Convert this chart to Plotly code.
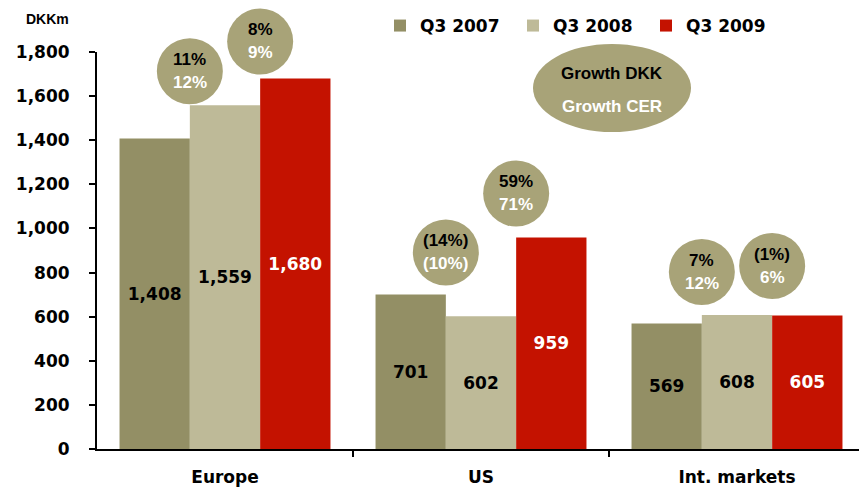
import plotly.graph_objects as go

# Sales by region, DKK million
regions = ["Europe", "US", "Int. markets"]
series_names = ["Q3 2007", "Q3 2008", "Q3 2009"]
sales_q3_2007 = [1408, 701, 569]
sales_q3_2008 = [1559, 602, 608]
sales_q3_2009 = [1680, 959, 605]

# Growth badges: (growth in DKK, growth at constant exchange rates)
growth_2008_dkk = ["11%", "(14%)", "7%"]
growth_2008_cer = ["12%", "(10%)", "12%"]
growth_2009_dkk = ["8%", "59%", "(1%)"]
growth_2009_cer = ["9%", "71%", "6%"]

y_ticks = [0, 200, 400, 600, 800, 1000, 1200, 1400, 1600, 1800]

colors = ["#938F65", "#BEBA98", "#C41200"]
label_colors = ["black", "black", "white"]
badge_color = "#A8A378"

W, H = 859, 491
M_L, M_R, M_T, M_B = 97, 0, 52, 42
plot_w = W - M_L - M_R
plot_h = H - M_T - M_B
Y_MAX = 1800
px_per_cat = 256
X_MIN = -0.5
X_MAX = X_MIN + plot_w / px_per_cat
BAR_GAP = 0.176
bar_w = (1 - BAR_GAP) / 3

label_font = "DejaVu Sans"
text_font = "Liberation Sans"

x_pos = list(range(len(regions)))

fig = go.Figure()
for name, vals, col, lc in zip(series_names,
                               [sales_q3_2007, sales_q3_2008, sales_q3_2009],
                               colors, label_colors):
    fig.add_trace(go.Bar(
        x=x_pos, y=vals, name=name, marker=dict(color=col, line=dict(width=0)),
        text=[f"{v:,}" for v in vals], textposition="inside",
        insidetextanchor="middle", textangle=0,
        textfont=dict(family=label_font, size=17, color=lc, weight="bold"),
        hoverinfo="skip",
    ))


def to_paper_x(x):
    return (x - X_MIN) / (X_MAX - X_MIN)


def to_paper_y(v):
    return v / Y_MAX


def px_x(p):
    return (p - M_L) / plot_w


def px_y(p):
    return (H - M_B - p) / plot_h


# Vertical lift (px) of each badge centre above the taller neighbouring bar
lift_px = [[34, 37], [42, 44], [43, 49]]
r_px = 33
units_per_px = Y_MAX / plot_h

shapes = []
annotations = []


def blob(cx, cy, rx, ry):
    shapes.append(dict(type="circle", xref="paper", yref="paper",
                       x0=cx - rx / plot_w, x1=cx + rx / plot_w,
                       y0=cy - ry / plot_h, y1=cy + ry / plot_h,
                       fillcolor=badge_color, line=dict(width=0), layer="above"))


def note(x, y, text, color, size):
    annotations.append(dict(
        xref="paper", yref="paper", x=x, y=y, showarrow=False,
        xanchor="center", yanchor="middle", align="center",
        text=f"<b>{text}</b>",
        font=dict(family=text_font, size=size, color=color),
    ))


def badge(cx, cy, top, bottom):
    blob(cx, cy, r_px, r_px)
    note(cx, cy + 11.5 / plot_h, top, "black", 17)
    note(cx, cy - 11.5 / plot_h, bottom, "white", 17)


for i in range(len(regions)):
    # badge between the 2007 and 2008 bars
    v = max(sales_q3_2007[i], sales_q3_2008[i]) + lift_px[i][0] * units_per_px
    badge(to_paper_x(i - bar_w / 2), to_paper_y(v), growth_2008_dkk[i], growth_2008_cer[i])
    # badge between the 2008 and 2009 bars
    v = max(sales_q3_2008[i], sales_q3_2009[i]) + lift_px[i][1] * units_per_px
    badge(to_paper_x(i + bar_w / 2), to_paper_y(v), growth_2009_dkk[i], growth_2009_cer[i])

# Key explaining the badges
blob(px_x(612), px_y(88), 79, 44)
note(px_x(612), px_y(73), "Growth DKK", "black", 17)
note(px_x(612), px_y(106), "Growth CER", "white", 17)

annotations.append(dict(
    xref="paper", yref="paper", x=px_x(48), y=px_y(19), showarrow=False,
    xanchor="center", yanchor="middle", text="<b>DKKm</b>",
    font=dict(family=text_font, size=14, color="black"),
))

fig.update_layout(
    width=W, height=H,
    margin=dict(l=M_L, r=M_R, t=M_T, b=M_B, pad=0),
    paper_bgcolor="white", plot_bgcolor="white",
    barmode="group", bargap=BAR_GAP, bargroupgap=0,
    showlegend=True,
    legend=dict(orientation="h", x=px_x(380), y=px_y(8), xanchor="left", yanchor="top",
                font=dict(family=label_font, size=17, color="black", weight="bold"),
                itemwidth=30, entrywidth=88, bgcolor="rgba(0,0,0,0)",
                traceorder="normal"),
    shapes=shapes, annotations=annotations,
    uniformtext=dict(mode=False),
)

fig.update_xaxes(
    range=[X_MIN, X_MAX], tickvals=x_pos, ticktext=regions, ticks="",
    showgrid=False, zeroline=False, showline=True, linecolor="black", linewidth=2,
    tickfont=dict(family=label_font, size=17, color="black", weight="bold"),
    ticklabelstandoff=12,
    minor=dict(tickvals=[0.5, 1.5], ticks="outside", ticklen=6, tickwidth=2,
               tickcolor="black", showgrid=False),
    fixedrange=True,
)
fig.update_yaxes(
    range=[0, Y_MAX], tickvals=y_ticks, tickformat=",d", ticks="outside",
    ticklen=6, tickwidth=2, tickcolor="black",
    showgrid=False, zeroline=False, showline=True, linecolor="black", linewidth=2,
    tickfont=dict(family=label_font, size=17, color="black", weight="bold"),
    ticklabelstandoff=16, fixedrange=True,
)

fig.write_html("out.html")
